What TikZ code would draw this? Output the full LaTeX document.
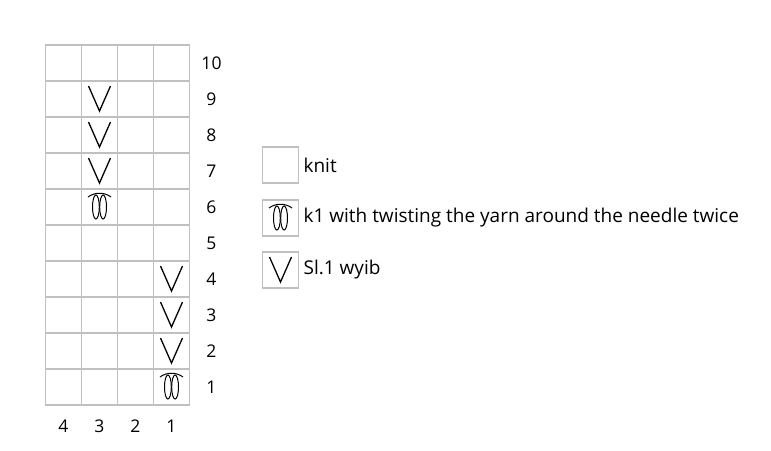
\documentclass[tikz,border=0pt]{standalone}
\usepackage{fontspec}
\setmainfont{Open Sans}
\usepackage{xcolor}
\usetikzlibrary{positioning}
\definecolor{gridgray}{RGB}{192,192,192}

\begin{document}
\begin{tikzpicture}[
  x=1pt, y=-1pt,
  node distance=2pt,
  cell/.style={rectangle, draw=gridgray, line width=1.8pt, minimum size=36pt, inner sep=0pt},
  num/.style={font=\fontsize{17.5}{20}\selectfont, inner sep=0pt},
  legtext/.style={font=\fontsize{19}{22}\selectfont, inner sep=2pt},
  slip/.pic={\draw[line width=1.3pt, line join=miter] (-11,-13) -- (0,12) -- (11,-13);},
  twist/.pic={
    \draw[line width=1pt] (-11.5,-10) .. controls (-5,-15) and (5,-15) .. (11.5,-10);
    \draw[line width=1pt] (-3.6,0) ellipse [x radius=3.4, y radius=12];
    \draw[line width=1pt] (3.6,0) ellipse [x radius=3.4, y radius=12];
  }
]
\useasboundingbox (0,0) rectangle (771,450);

% chart cells, columns counted from the right
\foreach \r in {1,...,10}
  \foreach \c in {1,...,4}
    \node[cell] (c-\r-\c) at ({189.5-36*(\c-0.5)}, {405-36*(\r-0.5)}) {};

% symbols
\foreach \r in {7,8,9}
  \pic at (c-\r-3) {slip};
\foreach \r in {2,3,4}
  \pic at (c-\r-1) {slip};
\pic at (c-6-3) {twist};
\pic at (c-1-1) {twist};

% row and column numbers
\foreach \r in {1,...,10}
  \node[num] (row-\r) at (211.5, {405-36*(\r-0.5)}) {\r};
\foreach \c in {1,...,4}
  \node[num] (col-\c) at ({189.5-36*(\c-0.5)}, 426.5) {\c};

% legend
\node[cell] (key-knit) at (280.5,165) {};
\node[legtext, right=of key-knit] (txt-knit) {knit};
\node[cell] (key-twist) at (280.5,218) {};
\pic at (key-twist) {twist};
\node[legtext, right=of key-twist] (txt-twist) {k1 with twisting the yarn around the needle twice};
\node[cell] (key-slip) at (280.5,270) {};
\pic at (key-slip) {slip};
\node[legtext, right=of key-slip] (txt-slip) {Sl.1 wyib};
\end{tikzpicture}
\end{document}
